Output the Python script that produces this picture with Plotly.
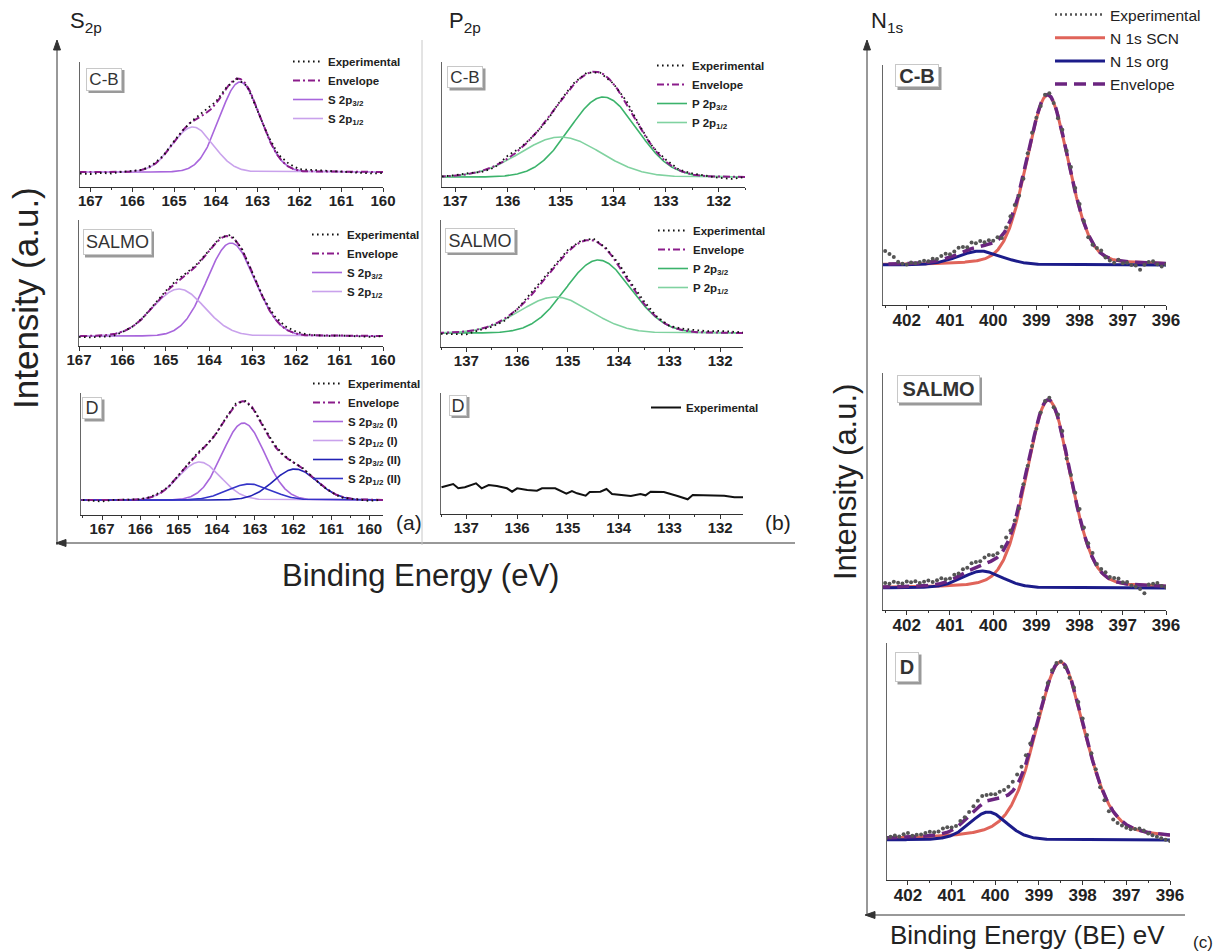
import numpy as np
import plotly.graph_objects as go

W, H = 1227, 952

# ===================== DATA =====================
# Panel (a) S 2p fitted components: centre (eV), height (a.u.), FWHM (eV)
s2p_cb_names = ["S 2p<sub>3/2</sub>", "S 2p<sub>1/2</sub>"]
s2p_cb_centres = [163.42, 164.55]
s2p_cb_heights = [90, 45]
s2p_cb_fwhm = [1.15, 1.15]
s2p_cb_background = 15

s2p_salmo_names = ["S 2p<sub>3/2</sub>", "S 2p<sub>1/2</sub>"]
s2p_salmo_centres = [163.50, 164.70]
s2p_salmo_heights = [93, 47]
s2p_salmo_fwhm = [1.30, 1.40]
s2p_salmo_background = 10

s2p_d_names = ["S 2p<sub>3/2</sub> (I)", "S 2p<sub>1/2</sub> (I)",
               "S 2p<sub>3/2</sub> (II)", "S 2p<sub>1/2</sub> (II)"]
s2p_d_centres = [163.30, 164.45, 161.95, 163.15]
s2p_d_heights = [77, 38, 31, 16]
s2p_d_fwhm = [1.30, 1.30, 1.35, 1.35]
s2p_d_background = 15

# Experimental S 2p scans: binding energy and deviation from envelope (a.u.)
s2p_cb_exp_energy = [167.25, 167.0, 166.75, 166.5, 166.25, 166.0, 165.75, 165.5, 165.25, 165.0,
                     164.75, 164.5, 164.25, 164.0, 163.75, 163.5, 163.25, 163.0, 162.75, 162.5,
                     162.25, 162.0, 161.75, 161.5, 161.25, 161.0, 160.75, 160.5, 160.25, 160.0]
s2p_cb_exp_dev = [-1.5, -2, -1, -1.5, 0, 0.5, 0, 1, 0.5, 1,
                  0, 1, 3, 2, 1, 0, 0, -1, 1, 2,
                  3, 1.5, 2, 1, 1, 0.5, 0, -1, -1.5, -1]

s2p_salmo_exp_energy = [167.0, 166.75, 166.5, 166.25, 166.0, 165.75, 165.5, 165.25, 165.0, 164.75,
                        164.5, 164.25, 164.0, 163.75, 163.5, 163.25, 163.0, 162.75, 162.5, 162.25,
                        162.0, 161.75, 161.5, 161.25, 161.0, 160.75, 160.5, 160.25, 160.0]
s2p_salmo_exp_dev = [-1, -1.5, -1, -2, -0.5, 0, 0.5, 1, 1.5, 2,
                     1.5, 1, 1, 1.5, 2, 1, 0, 0.5, 2, 2.5,
                     2, 1, 0.5, 0, 0.5, 0, -0.5, -1, 0]

s2p_d_exp_energy = [167.5, 167.25, 167.0, 166.75, 166.5, 166.25, 166.0, 165.75, 165.5, 165.25,
                    165.0, 164.75, 164.5, 164.25, 164.0, 163.75, 163.5, 163.25, 163.0, 162.75,
                    162.5, 162.25, 162.0, 161.75, 161.5, 161.25, 161.0, 160.75, 160.5, 160.25,
                    160.0, 159.75]
s2p_d_exp_dev = [0, -1, -1.5, 0, 0, 0.5, 0, 0.5, 1, 0,
                 1, 0.5, 1, 0, 0, 1, 1.5, 0.5, 0, 0.5,
                 1, 0.5, 0, 0.5, 0, -0.5, 0, -1, 0, -0.5,
                 -1, 0]

# Panel (b) P 2p fitted components
p2p_cb_names = ["P 2p<sub>3/2</sub>", "P 2p<sub>1/2</sub>"]
p2p_cb_centres = [134.19, 135.00]
p2p_cb_heights = [80, 40]
p2p_cb_fwhm = [1.50, 1.80]
p2p_cb_background = 10

p2p_salmo_names = ["P 2p<sub>3/2</sub>", "P 2p<sub>1/2</sub>"]
p2p_salmo_centres = [134.40, 135.25]
p2p_salmo_heights = [73, 36]
p2p_salmo_fwhm = [1.52, 1.65]
p2p_salmo_background = 14

p2p_cb_exp_energy = [137.25, 137.0, 136.75, 136.5, 136.25, 136.0, 135.75, 135.5, 135.25, 135.0,
                     134.75, 134.5, 134.25, 134.0, 133.75, 133.5, 133.25, 133.0, 132.75, 132.5,
                     132.25, 132.0, 131.75, 131.5]
p2p_cb_exp_dev = [0, 0.5, 1, -1, -1.5, 3, 1, 0, -1, 1,
                  1.5, 1, 0, 0, 2.5, 1, 0, 2, 0.5, 1,
                  0.5, -1, -2, 0]

p2p_salmo_exp_energy = [137.5, 137.25, 137.0, 136.75, 136.5, 136.25, 136.0, 135.75, 135.5, 135.25,
                        135.0, 134.75, 134.5, 134.25, 134.0, 133.75, 133.5, 133.25, 133.0, 132.75,
                        132.5, 132.25, 132.0, 131.75, 131.5]
p2p_salmo_exp_dev = [-1, -2, -3, -1, -1.5, -2, 0, 2.5, 3, 1.5,
                     2, 1, 2, 1, 2, 2, 2.5, 1, 0, 1.5,
                     2, 1.5, 2, 1, 0.5]

# D sample, P 2p: experimental only (no signal)
p2p_d_energy = [137.49, 137.26, 137.16, 137.03, 136.81, 136.70, 136.56, 136.40, 136.20, 136.10,
                136.00, 135.80, 135.61, 135.51, 135.25, 135.15, 135.03, 134.92, 134.82, 134.65,
                134.57, 134.36, 134.24, 134.13, 133.93, 133.76, 133.57, 133.47, 133.37, 133.11,
                132.84, 132.64, 132.54, 132.35, 132.12, 131.92, 131.72, 131.52]
p2p_d_intensity = [26.7, 30.0, 25.7, 26.7, 30.7, 25.7, 29.0, 28.0, 25.7, 22.3,
                   25.7, 24.0, 23.3, 25.7, 25.7, 23.3, 20.3, 23.0, 20.7, 18.3,
                   22.0, 22.3, 25.0, 20.0, 18.7, 18.0, 20.0, 18.7, 22.3, 22.0,
                   18.0, 14.7, 19.0, 19.0, 18.3, 18.3, 16.7, 16.7]

# Panel (c) N 1s fitted components: [SCN, org]; pseudo-Voigt (Lorentz fraction)
n1s_cb_centres = [398.74, 400.31]
n1s_cb_heights = [170, 14]
n1s_cb_fwhm = [1.15, 1.20]
n1s_cb_lfrac = [0.2, 0.2]
n1s_cb_background = 40

n1s_salmo_centres = [398.72, 400.25]
n1s_salmo_heights = [188, 17]
n1s_salmo_fwhm = [1.20, 1.10]
n1s_salmo_lfrac = [0.2, 0.2]
n1s_salmo_background = 22

n1s_d_centres = [398.51, 400.16]
n1s_d_heights = [178, 28]
n1s_d_fwhm = [1.35, 1.00]
n1s_d_lfrac = [0.4, 0.2]
n1s_d_background = 40

n1s_exp_energy = [402.5, 402.4, 402.3, 402.2, 402.1, 402.0, 401.9, 401.8, 401.7, 401.6,
                  401.5, 401.4, 401.3, 401.2, 401.1, 401.0, 400.9, 400.8, 400.7, 400.6,
                  400.5, 400.4, 400.3, 400.2, 400.1, 400.0, 399.9, 399.8, 399.7, 399.6,
                  399.5, 399.4, 399.3, 399.2, 399.1, 399.0, 398.9, 398.8, 398.7, 398.6,
                  398.5, 398.4, 398.3, 398.2, 398.1, 398.0, 397.9, 397.8, 397.7, 397.6,
                  397.5, 397.4, 397.3, 397.2, 397.1, 397.0, 396.9, 396.8, 396.7, 396.6,
                  396.5, 396.4, 396.3, 396.2, 396.1, 396.0]
n1s_cb_exp_dev = [13, 10, 7, 2, 0, -1, 1, 0, 1, 2,
                  1, 3, 2, 4, 5, 3, 4, 6, 5, 3,
                  6, 4, 5, 3, 4, 2, 3, -2, 2, 4,
                  3, -3, -4, 2, 3, 0, -2, 1, 2, -1,
                  -3, 3, 2, 6, 4, 5, 2, -3, -2, 1,
                  3, -1, -2, -3, 1, -2, -1, -3, -3, -7,
                  -2, 1, 2, -1, -3, -1]
n1s_salmo_exp_dev = [4, 3, 5, 4, 3, 5, 4, 5, 3, 4,
                     5, 3, 4, 5, 3, 2, 4, 3, 5, 4,
                     6, 5, 4, 6, 7, 5, 4, 6, 8, 5,
                     2, -2, 3, 1, 0, -2, -1, 1, 2, -2,
                     3, 4, -3, 2, 5, 8, 6, 4, 5, 2,
                     3, 4, 2, 3, 4, 1, 2, -1, -2, -4,
                     -8, 1, 2, 3, 0, -1]
n1s_d_exp_dev = [0, 1, 2, 1, 3, 4, 1, 2, 2, 3,
                 4, 3, 3, 5, 5, 3, 2, 4, 4, 5,
                 6, 7, 8, 6, 5, 4, 6, 7, 8, 9,
                 10, 9, 9, 7, 6, 4, 3, 2, 2, 1,
                 0, -2, -3, 1, 3, 4, 5, 3, 2, -3,
                 -5, -7, -8, -6, -4, -3, -2, 0, 2, 1,
                 -1, -2, -3, -4, -5, -6]

# ===================== MODEL =====================
LN2x4 = 4 * np.log(2)


def gauss(e, c, h, w):
    return h * np.exp(-LN2x4 * ((e - c) / w) ** 2)


def pvoigt(e, c, h, w, eta):
    u = (e - c) / w
    return h * (eta / (1 + 4 * u ** 2) + (1 - eta) * np.exp(-LN2x4 * u ** 2))


FONT = "Liberation Sans, Arial, sans-serif"
fig = go.Figure()


def sfx(n):
    return "" if n == 1 else str(n)


def add_axes(n, x0, x1, y0, y1, xr, tsize):
    s = sfx(n)
    fig.update_layout(**{
        "xaxis" + s: dict(domain=[x0 / W, x1 / W], range=xr, anchor="y" + s,
                          showline=True, linecolor="#333", linewidth=1,
                          ticks="outside", ticklen=4, tickcolor="#333", tickwidth=1,
                          tick0=0, dtick=1, showgrid=False, zeroline=False,
                          ticklabelstandoff=-4,
                          minor=dict(ticks="outside", ticklen=2, dtick=0.5, tick0=0,
                                     tickcolor="#333"),
                          tickfont=dict(family=FONT, size=tsize, color="#222", weight="bold")),
        "yaxis" + s: dict(domain=[1 - y1 / H, 1 - y0 / H], range=[0, y1 - y0], anchor="x" + s,
                          showline=True, linecolor="#666", linewidth=1, ticks="",
                          showticklabels=False, showgrid=False, zeroline=False),
    })


# subplot geometry (pixels): n, x0, x1, y0, y1, x-range, tick font size
add_axes(1, 80, 383, 62, 187, [167.25, 160.0], 15)
add_axes(2, 79, 383, 220, 346, [167.0, 160.0], 15)
add_axes(3, 81, 383, 393, 515, [167.55, 159.65], 15)
add_axes(4, 442, 745, 62, 187, [137.25, 131.5], 15)
add_axes(5, 441, 743, 220, 347, [137.5, 131.55], 15)
add_axes(6, 441, 743, 393, 514, [137.5, 131.55], 15)
add_axes(7, 883, 1166, 65, 305, [402.55, 396.0], 17)
add_axes(8, 883, 1166, 373, 610, [402.55, 396.0], 17)
add_axes(9, 887, 1170, 643, 880, [402.48, 396.0], 17)

ENV_COLOR = "#8b1c8b"


def gauss_panel(n, legend, names, centres, heights, fwhm, bg, colors, xr, exp_e, exp_dev):
    s = sfx(n)
    e = np.linspace(min(xr), max(xr), 500)
    comps = [gauss(e, c, h, w) for c, h, w in zip(centres, heights, fwhm)]
    for k, (nm, comp, col) in enumerate(zip(names, comps, colors)):
        fig.add_trace(go.Scatter(x=e, y=bg + comp, mode="lines", name=nm,
                                 line=dict(color=col, width=1.6), xaxis="x" + s, yaxis="y" + s,
                                 legend=legend, legendrank=10 + k))
    env = bg + np.sum(comps, axis=0)
    fig.add_trace(go.Scatter(x=e, y=env, mode="lines", name="Envelope",
                             line=dict(color=ENV_COLOR, width=2, dash="7px,3px,2px,3px"),
                             xaxis="x" + s, yaxis="y" + s, legend=legend, legendrank=2))
    ee = np.array(exp_e)
    env_e = bg + np.sum([gauss(ee, c, h, w) for c, h, w in zip(centres, heights, fwhm)], axis=0)
    fig.add_trace(go.Scatter(x=ee, y=env_e + np.array(exp_dev), mode="lines", name="Experimental",
                             line=dict(color="#111", width=1.8, dash="1.6px,3.4px"),
                             xaxis="x" + s, yaxis="y" + s, legend=legend, legendrank=1))


S_COLORS = ["#a866dc", "#c9a2ec"]
S_COLORS_D = ["#a866dc", "#c9a2ec", "#2222b4", "#3434c8"]
P_COLORS = ["#3bb36b", "#80d2a0"]

gauss_panel(1, "legend", s2p_cb_names, s2p_cb_centres, s2p_cb_heights, s2p_cb_fwhm,
            s2p_cb_background, S_COLORS, [167.25, 160.0], s2p_cb_exp_energy, s2p_cb_exp_dev)
gauss_panel(2, "legend2", s2p_salmo_names, s2p_salmo_centres, s2p_salmo_heights, s2p_salmo_fwhm,
            s2p_salmo_background, S_COLORS, [167.0, 160.0], s2p_salmo_exp_energy, s2p_salmo_exp_dev)
gauss_panel(3, "legend3", s2p_d_names, s2p_d_centres, s2p_d_heights, s2p_d_fwhm,
            s2p_d_background, S_COLORS_D, [167.55, 159.65], s2p_d_exp_energy, s2p_d_exp_dev)
gauss_panel(4, "legend4", p2p_cb_names, p2p_cb_centres, p2p_cb_heights, p2p_cb_fwhm,
            p2p_cb_background, P_COLORS, [137.25, 131.5], p2p_cb_exp_energy, p2p_cb_exp_dev)
gauss_panel(5, "legend5", p2p_salmo_names, p2p_salmo_centres, p2p_salmo_heights, p2p_salmo_fwhm,
            p2p_salmo_background, P_COLORS, [137.5, 131.55], p2p_salmo_exp_energy, p2p_salmo_exp_dev)

fig.add_trace(go.Scatter(x=p2p_d_energy, y=p2p_d_intensity, mode="lines", name="Experimental",
                         line=dict(color="#111", width=2), xaxis="x6", yaxis="y6", legend="legend6"))

SCN_COLOR = "#e0645a"
ORG_COLOR = "#1c1c8a"
N_ENV = "#6b2580"
EXP_GREY = "#555555"


def n1s_panel(n, centres, heights, fwhm, lfrac, bg, xr, exp_dev, show):
    s = sfx(n)
    e = np.linspace(min(xr), max(xr), 500)
    scn = pvoigt(e, centres[0], heights[0], fwhm[0], lfrac[0])
    org = pvoigt(e, centres[1], heights[1], fwhm[1], lfrac[1])
    fig.add_trace(go.Scatter(x=e, y=bg + scn, mode="lines", name="N 1s SCN",
                             line=dict(color=SCN_COLOR, width=3), xaxis="x" + s, yaxis="y" + s,
                             legend="legend7", legendrank=2, showlegend=show))
    fig.add_trace(go.Scatter(x=e, y=bg + org, mode="lines", name="N 1s org",
                             line=dict(color=ORG_COLOR, width=3), xaxis="x" + s, yaxis="y" + s,
                             legend="legend7", legendrank=3, showlegend=show))
    fig.add_trace(go.Scatter(x=e, y=bg + scn + org, mode="lines", name="Envelope",
                             line=dict(color=N_ENV, width=3.5, dash="12px,7px"),
                             xaxis="x" + s, yaxis="y" + s,
                             legend="legend7", legendrank=4, showlegend=show))
    ee = np.array(n1s_exp_energy)
    env_e = bg + pvoigt(ee, centres[0], heights[0], fwhm[0], lfrac[0]) + \
        pvoigt(ee, centres[1], heights[1], fwhm[1], lfrac[1])
    fig.add_trace(go.Scatter(x=ee, y=env_e + np.array(exp_dev), mode="markers", name="Experimental",
                             marker=dict(color=EXP_GREY, size=4),
                             xaxis="x" + s, yaxis="y" + s, showlegend=False))


n1s_panel(7, n1s_cb_centres, n1s_cb_heights, n1s_cb_fwhm, n1s_cb_lfrac, n1s_cb_background,
          [402.55, 396.0], n1s_cb_exp_dev, True)
n1s_panel(8, n1s_salmo_centres, n1s_salmo_heights, n1s_salmo_fwhm, n1s_salmo_lfrac,
          n1s_salmo_background, [402.55, 396.0], n1s_salmo_exp_dev, False)
n1s_panel(9, n1s_d_centres, n1s_d_heights, n1s_d_fwhm, n1s_d_lfrac, n1s_d_background,
          [402.48, 396.0], n1s_d_exp_dev, False)

# legend key for the N 1s experimental points (dotted sample, as in the reference)
fig.add_trace(go.Scatter(x=[None], y=[None], mode="lines", name="Experimental",
                         line=dict(color=EXP_GREY, width=2.5, dash="2px,3px"),
                         xaxis="x7", yaxis="y7", legend="legend7", legendrank=1))

# ===================== LEGENDS =====================


def small_legend(xpx, ypx):
    return dict(x=xpx / W, y=1 - ypx / H, xanchor="left", yanchor="top",
                bgcolor="rgba(0,0,0,0)", borderwidth=0, itemwidth=30,
                font=dict(family=FONT, size=11.5, color="#222", weight="bold"),
                tracegroupgap=0)


fig.update_layout(
    legend=small_legend(288, 47),
    legend2=small_legend(307, 220),
    legend3=small_legend(308, 369),
    legend4=small_legend(652, 51),
    legend5=small_legend(653, 216),
    legend6=small_legend(646, 393),
    legend7=dict(x=1050 / W, y=1 + 2 / H, xanchor="left", yanchor="top",
                 bgcolor="rgba(0,0,0,0)", borderwidth=0, itemwidth=50,
                 font=dict(family=FONT, size=15.5, color="#222")),
)

# ===================== ANNOTATIONS / SHAPES =====================
ann = []
shapes = []


def P(xpx, ypx):
    return xpx / W, 1 - ypx / H


def text(xpx, ypx, t, size, angle=0, xanchor="center", color="#222", weight="normal"):
    x, y = P(xpx, ypx)
    ann.append(dict(x=x, y=y, xref="paper", yref="paper", text=t, showarrow=False,
                    textangle=angle, xanchor=xanchor, yanchor="middle",
                    font=dict(family=FONT, size=size, color=color, weight=weight)))


def box(cx, cy, w, h, t, size, weight="normal"):
    # shadow (right / bottom) then framed label
    sh = 2.5
    shapes.append(dict(type="rect", xref="paper", yref="paper",
                       x0=(cx - w / 2 + sh) / W, x1=(cx + w / 2 + sh) / W,
                       y0=1 - (cy + h / 2 + sh) / H, y1=1 - (cy - h / 2 + sh) / H,
                       fillcolor="#9a9a9a", line=dict(width=0), layer="above"))
    x, y = P(cx, cy)
    pad = 1
    ann.append(dict(x=x, y=y, xref="paper", yref="paper", text=t, showarrow=False,
                    xanchor="center", yanchor="middle", borderpad=pad,
                    width=w - 2 * pad - 2, height=h - 2 * pad - 2, align="center", valign="middle",
                    bgcolor="white", borderwidth=1, bordercolor="#c8c8c8",
                    font=dict(family=FONT, size=size, color="#333", weight=weight)))


def line(x0, y0, x1, y1, color="#333", width=1):
    shapes.append(dict(type="line", xref="paper", yref="paper", x0=x0 / W, x1=x1 / W,
                       y0=1 - y0 / H, y1=1 - y1 / H, line=dict(color=color, width=width)))


def head(pts, color="#333"):
    path = "M " + " L ".join(f"{px / W:.5f},{1 - py / H:.5f}" for px, py in pts) + " Z"
    shapes.append(dict(type="path", xref="paper", yref="paper", path=path,
                       fillcolor=color, line=dict(color=color, width=1)))


text(68, 22, "S<sub>2p</sub>", 22, xanchor="left")
text(447, 22, "P<sub>2p</sub>", 22, xanchor="left")
text(869, 22, "N<sub>1s</sub>", 22, xanchor="left")
text(25, 298, "Intensity (a.u.)", 35, angle=-90)
text(420, 575, "Binding Energy (eV)", 31)
text(845, 482, "Intensity (a.u.)", 31, angle=-90)
text(1027, 935, "Binding Energy (BE) eV", 26)
text(409, 522, "(a)", 21)
text(778, 522, "(b)", 21)
text(1203, 942, "(c)", 17)

box(104, 79, 36, 23, "C-B", 17)
box(117, 242, 69, 26, "SALMO", 18)
box(92, 408, 20, 22, "D", 18)
box(465, 77, 36, 22, "C-B", 17)
box(480, 240, 70, 25, "SALMO", 18)
box(458, 405, 18, 21, "D", 18)
box(917, 76, 44, 23, "C-B", 20, "bold")
box(938, 389, 83, 28, "SALMO", 20, "bold")
box(907, 667, 24, 30, "D", 20, "bold")

# outer frame arrows
line(57, 545, 57, 48)
head([(57, 40), (53.5, 50), (60.5, 50)])
line(795, 543, 64, 543)
head([(56, 543), (66, 539.5), (66, 546.5)])
line(867, 916, 867, 48)
head([(867, 40), (863.5, 50), (870.5, 50)])
line(1185, 915, 873, 915)
head([(865, 915), (875, 911.5), (875, 918.5)])
# separator between panels (a) and (b)
line(422, 40, 422, 545, color="#c8c8c8")

fig.update_layout(width=W, height=H, margin=dict(l=0, r=0, t=0, b=0, autoexpand=False),
                  paper_bgcolor="white", plot_bgcolor="white",
                  annotations=ann, shapes=shapes, showlegend=True,
                  font=dict(family=FONT))

fig.write_html("out.html", config={"displayModeBar": False},
               post_script="document.body.style.margin='0px';document.body.style.overflow='hidden';")
